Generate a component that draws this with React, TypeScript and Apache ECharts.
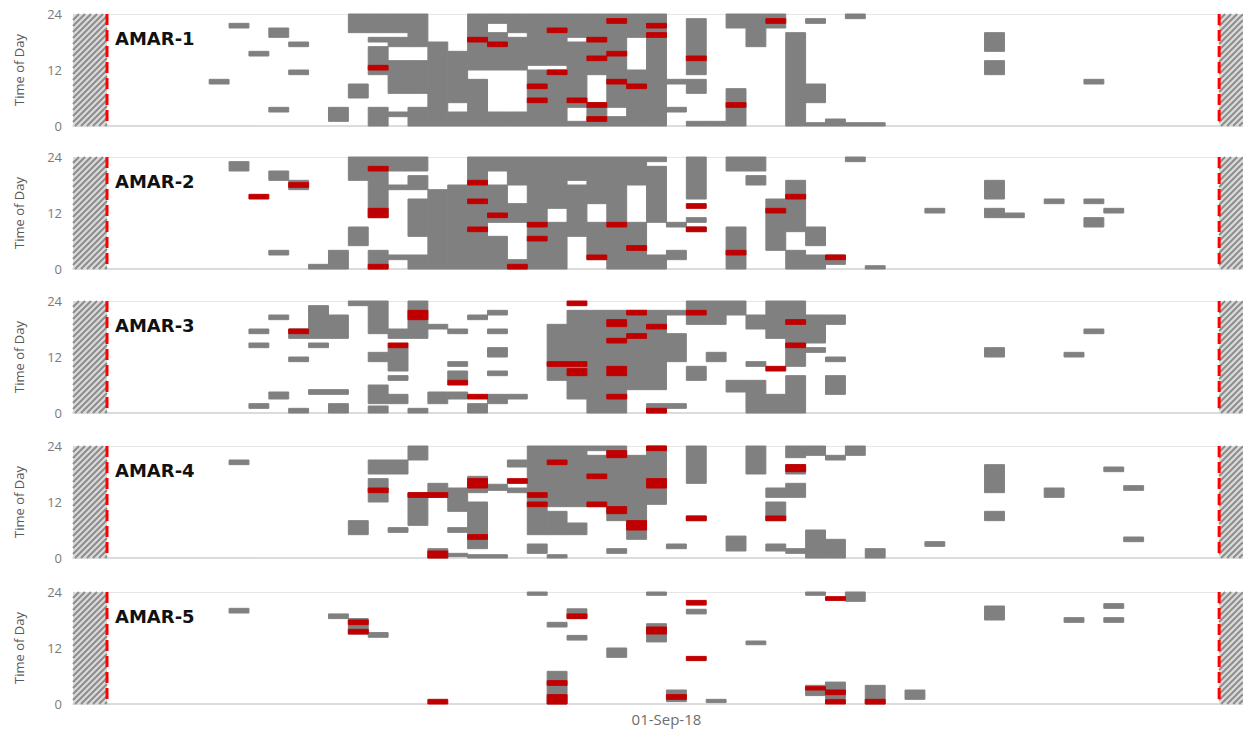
import React, { useEffect, useRef } from "react";
import * as echarts from "echarts";

// ---- data (day index: 0 = 04-Aug-18, 28 = 01-Sep-18; hours 0-24) ----
const PANELS = ["AMAR-1", "AMAR-2", "AMAR-3", "AMAR-4", "AMAR-5"];
const X_MIN = -1.85;
const X_MAX = 57;
const DEPLOY_START = -0.14;
const DEPLOY_END = 55.8;
const SEP1_DAY = 28;
const X_TICK_LABEL = "01-Sep-18";
const Y_TICKS = [0, 12, 24];

// [day, startHour, endHour]
const gray1 = [
  [5, 9, 10], [6, 21, 22], [7, 15, 16], [8, 19, 21], [8, 3, 4], [9, 17, 18], [9, 11, 12],
  [11, 1, 4], [12, 20, 24], [12, 6, 9],
  [13, 20, 24], [13, 18, 19], [13, 11, 17], [13, 0, 4],
  [14, 20, 24], [14, 17, 19], [14, 7, 14], [14, 2, 3],
  [15, 17, 24], [15, 7, 14], [15, 0, 4],
  [16, 0, 18], [17, 0, 3], [17, 5, 16],
  [18, 0, 10], [18, 12, 24],
  [19, 12, 20], [19, 22, 24], [19, 0, 3],
  [20, 0, 3], [20, 12, 19], [20, 20, 24],
  [21, 0, 12], [21, 13, 24], [22, 0, 12], [22, 13, 24],
  [23, 0, 1], [23, 4, 18], [23, 19, 24],
  [24, 0, 5], [24, 11, 24], [25, 0, 2], [25, 4, 24],
  [26, 0, 12], [26, 19, 24], [27, 0, 24],
  [28, 9, 10], [28, 3, 4],
  [29, 7, 10], [29, 11, 23], [29, 0, 1], [30, 0, 1],
  [31, 21, 24], [31, 0, 8], [32, 17, 24], [33, 21, 24], [34, 0, 20],
  [35, 5, 9], [35, 22, 23], [35, 0, 0.7], [36, 0, 1.5], [37, 23, 24], [37, 0, 0.7], [38, 0, 0.7],
  [44, 16, 20], [44, 11, 14], [49, 9, 10],
];
const red1 = [
  [13, 12, 13], [18, 18, 19], [19, 17, 18], [22, 20, 21], [24, 18, 19], [25, 22, 23],
  [27, 21, 22], [27, 19, 20], [24, 14, 15], [25, 15, 16], [29, 14, 15], [22, 11, 12],
  [21, 8, 9], [25, 9, 10], [26, 8, 9], [21, 5, 6], [23, 5, 6], [24, 4, 5], [31, 4, 5],
  [24, 1, 2], [33, 22, 23],
];

const gray2 = [
  [6, 21, 23], [8, 19, 21], [8, 3, 4], [9, 17, 19], [10, 0, 1], [11, 0, 4],
  [12, 19, 24], [12, 5, 9], [13, 17, 24], [13, 11, 17], [13, 0, 4],
  [14, 21, 24], [14, 17, 18], [14, 2, 3],
  [15, 21, 24], [15, 17, 20], [15, 7, 15], [15, 0, 3],
  [16, 0, 17], [17, 0, 18], [18, 0, 24],
  [19, 0, 7], [19, 10, 18], [19, 21, 24],
  [20, 18, 24], [20, 10, 14], [20, 0, 2],
  [21, 0, 24], [22, 0, 10], [22, 13, 24],
  [23, 7, 18], [23, 19, 24], [24, 14, 24], [24, 2, 10],
  [25, 0, 24], [26, 0, 10], [26, 18, 24],
  [27, 0, 3], [27, 10, 22], [27, 23, 24],
  [28, 2, 4], [28, 9, 10], [29, 15, 24], [29, 10, 11], [29, 8, 9],
  [31, 21, 24], [31, 0, 9], [32, 21, 24], [32, 18, 20],
  [33, 4, 15], [34, 8, 19], [34, 0, 4], [35, 5, 9], [35, 0, 3], [36, 1, 3],
  [37, 23, 24], [38, 0, 0.7],
  [41, 12, 13], [44, 15, 19], [44, 11, 13], [45, 11, 12], [47, 14, 15],
  [49, 14, 15], [49, 9, 11], [50, 12, 13],
];
const red2 = [
  [7, 15, 16], [9, 17.5, 18.5], [13, 21, 22], [13, 11, 13], [13, 0, 1], [18, 18, 19],
  [18, 14, 15], [18, 8, 9], [19, 11, 12], [20, 0, 1], [21, 9, 10], [21, 6, 7], [24, 2, 3],
  [25, 9, 10], [26, 4, 5], [29, 13, 14], [29, 8, 9], [31, 3, 4], [33, 12, 13], [34, 15, 16],
  [36, 2, 3],
];

const gray3 = [
  [7, 17, 18], [7, 14, 15], [7, 1, 2], [8, 20, 21], [8, 3, 4.5], [9, 16, 18], [9, 11, 12], [9, 0, 1],
  [10, 16, 23], [10, 14, 15], [10, 4, 5], [11, 16, 21], [11, 4, 5], [11, 0, 2],
  [12, 23, 24], [13, 17, 24], [13, 11, 13], [13, 2, 6], [13, 0, 1.5],
  [14, 16, 18], [14, 9, 14], [14, 7, 8], [14, 2, 4], [15, 16, 24], [15, 0, 1],
  [16, 18, 19], [16, 2, 4.5], [17, 17, 18], [17, 10, 11], [17, 7, 9], [17, 3, 4.5],
  [18, 20, 21], [18, 0, 2], [19, 21, 22], [19, 17, 18], [19, 12, 14], [19, 8, 9], [19, 2, 4],
  [20, 3, 4], [22, 7, 19], [23, 3, 22], [24, 0, 22], [25, 0, 22], [26, 5, 22],
  [27, 5, 22], [27, 0, 2], [28, 21, 22], [28, 11, 17], [28, 1, 2],
  [29, 19, 24], [29, 7, 10], [30, 19, 24], [30, 11, 13], [31, 21, 24], [31, 4.5, 7],
  [32, 18, 21], [32, 10, 11], [32, 0, 7], [33, 16, 24], [33, 0, 4], [34, 10, 24], [34, 0, 8],
  [35, 15, 21], [35, 13, 14], [36, 19, 21], [36, 11, 12], [36, 4, 8],
  [44, 12, 14], [48, 12, 13], [49, 17, 18],
];
const red3 = [
  [9, 17, 18], [14, 14, 15], [15, 20, 22], [17, 6, 7], [18, 3, 4], [23, 23, 24], [22, 10, 11],
  [23, 10, 11], [23, 8, 9.5], [25, 18.5, 20], [25, 15, 16], [25, 8, 10], [25, 3, 4],
  [26, 21, 22], [26, 16, 17], [27, 18, 19], [27, 0, 1], [29, 21, 22], [33, 9, 10],
  [34, 19, 20], [34, 14, 15],
];

const gray4 = [
  [6, 20, 21], [12, 5, 8], [13, 18, 21], [13, 12, 17], [14, 18, 21], [14, 5.5, 6.5],
  [15, 21, 24], [15, 7, 14], [16, 13, 16], [16, 0, 2],
  [17, 10, 15], [17, 5.5, 6.5], [17, 0.3, 1], [18, 14, 17.5], [18, 2, 12], [18, 0, 0.7],
  [19, 14.5, 15.8], [19, 0, 0.7], [20, 19.5, 21], [20, 14, 15],
  [21, 14, 24], [21, 5, 13], [21, 1, 3], [22, 11, 24], [22, 5, 10], [22, 0, 0.7],
  [23, 11, 24], [23, 5, 7.5], [24, 11, 22], [24, 23, 24], [25, 8, 24], [25, 1, 2],
  [26, 4, 22], [27, 11.5, 24], [28, 2, 3], [29, 16, 24], [29, 8, 9], [31, 1.5, 4.7],
  [32, 18, 24], [33, 13, 15], [33, 8, 12], [33, 1.5, 3],
  [34, 21.5, 24], [34, 18, 20], [34, 13, 16], [34, 1, 2], [35, 22, 24], [35, 0, 6],
  [36, 21, 22], [36, 0, 4], [37, 22, 24], [38, 0, 2],
  [41, 2.5, 3.5], [44, 14, 20], [44, 8, 10], [47, 13, 15], [50, 18.5, 19.5],
  [51, 14.5, 15.5], [51, 3.5, 4.5],
];
const red4 = [
  [13, 14, 15], [15, 13, 14], [16, 13, 14], [16, 0, 1.5], [18, 15, 17], [18, 4, 5],
  [20, 16, 17], [21, 13, 14], [21, 11, 12], [22, 20, 21], [24, 17, 18], [24, 11, 12],
  [25, 21.5, 23], [25, 9.5, 11], [26, 6, 8], [27, 23, 24], [27, 15, 17], [29, 8, 9],
  [33, 8, 9], [34, 18.5, 20],
];

const gray5 = [
  [6, 19.5, 20.5], [11, 18.3, 19.3], [12, 15, 18.3], [13, 14.3, 15.3],
  [21, 23.3, 24], [22, 16.5, 17.5], [22, 0, 7], [23, 18.3, 20.4], [23, 13.7, 14.7], [25, 10, 12],
  [27, 23.3, 24], [27, 13.3, 17.2], [28, 0.5, 3], [29, 19.3, 20.3], [30, 0.3, 1], [32, 12.7, 13.5],
  [35, 23.3, 24], [35, 1.8, 4], [36, 1.2, 4.7], [37, 22, 24], [38, 0, 4], [40, 1, 3],
  [44, 18, 21], [48, 17.5, 18.5], [50, 20.5, 21.5], [50, 17.5, 18.5],
];
const red5 = [
  [12, 17, 18], [12, 15, 16], [16, 0, 1], [22, 4, 5], [22, 0, 2], [23, 18.3, 19.3],
  [27, 15, 16.5], [28, 1, 2], [29, 21.2, 22.2], [29, 9.3, 10.2], [35, 3, 3.7],
  [36, 22.2, 23], [36, 2, 3], [36, 0, 1], [38, 0, 1],
];

const GRAYS = [gray1, gray2, gray3, gray4, gray5];
const REDS = [red1, red2, red3, red4, red5];

// ---- layout / style ----
const GRID_TOPS = [14, 157, 301, 446, 592];
const GRID_H = 112;
const GRID_LEFT = 73;
const GRAY = "#808080";
const RED = "#c00000";

function cellRender(color: string) {
  return (params: any, api: any) => {
    const d = api.value(0);
    const p1 = api.coord([d, api.value(2)]);
    const p2 = api.coord([d + 1, api.value(1)]);
    return {
      type: "rect",
      shape: { x: p1[0], y: p1[1], width: p2[0] - p1[0], height: p2[1] - p1[1] },
      style: { fill: color, stroke: color, lineWidth: 1 },
    };
  };
}

function hatchRender(params: any, api: any) {
  const a = api.coord([api.value(0), 24]);
  const b = api.coord([api.value(1), 0]);
  const x0 = a[0], y0 = a[1], w = b[0] - a[0], h = b[1] - a[1];
  const children: any[] = [
    { type: "rect", shape: { x: x0, y: y0, width: w, height: h }, style: { fill: "#dadada" } },
  ];
  const p = 6;
  for (let c = x0 + y0; c <= x0 + w + y0 + h + p; c += p) {
    const xa = Math.max(x0, c - y0 - h);
    const xb = Math.min(x0 + w, c - y0);
    if (xb > xa) {
      children.push({
        type: "line",
        shape: { x1: xa, y1: c - xa, x2: xb, y2: c - xb },
        style: { stroke: "#8c8c8c", lineWidth: 2 },
      });
    }
  }
  return { type: "group", children };
}

function lineRender(params: any, api: any) {
  const a = api.coord([api.value(0), 24]);
  const b = api.coord([api.value(0), 0]);
  return {
    type: "line",
    shape: { x1: a[0], y1: a[1], x2: b[0], y2: b[1] },
    style: { stroke: "#ff0000", lineWidth: 3, lineDash: [11, 5] },
  };
}

export default function App() {
  const ref = useRef<HTMLDivElement>(null);
  useEffect(() => {
    if (!ref.current) return;
    const chart = echarts.init(ref.current, null, { renderer: "svg" });
    const grid: any[] = [];
    const xAxis: any[] = [];
    const yAxis: any[] = [];
    const series: any[] = [];
    const title: any[] = [];
    PANELS.forEach((name, i) => {
      grid.push({ left: GRID_LEFT, right: 0, top: GRID_TOPS[i], height: GRID_H });
      xAxis.push({
        type: "value",
        gridIndex: i,
        min: X_MIN,
        max: X_MAX,
        axisLine: { show: true, onZero: false, lineStyle: { color: "#d0d0d0", width: 1.5 } },
        axisTick: { show: false },
        splitLine: { show: false },
        axisLabel: {
          show: i === PANELS.length - 1,
          customValues: [SEP1_DAY],
          formatter: () => X_TICK_LABEL,
          color: "#6e6e6e",
          fontSize: 15,
          fontFamily: "Open Sans",
          margin: 7,
        },
      });
      yAxis.push({
        type: "value",
        gridIndex: i,
        min: Y_TICKS[0],
        max: Y_TICKS[Y_TICKS.length - 1],
        interval: 12,
        name: "Time of Day",
        nameLocation: "middle",
        nameGap: 48,
        nameTextStyle: { color: "#595959", fontSize: 13, fontFamily: "Open Sans" },
        axisLine: { show: false },
        axisTick: { show: false },
        axisLabel: { color: "#7a7a7a", fontSize: 13, fontFamily: "Open Sans", margin: 11 },
        splitLine: {
          show: true,
          lineStyle: { color: ["rgba(0,0,0,0)", "rgba(0,0,0,0)", "#e6e6e6"], width: 1 },
        },
      });
      series.push({
        type: "custom",
        xAxisIndex: i,
        yAxisIndex: i,
        renderItem: hatchRender,
        encode: { x: [0, 1] },
        data: [[X_MIN, DEPLOY_START], [DEPLOY_END, X_MAX]],
        silent: true,
        z: 1,
      });
      series.push({
        type: "custom",
        xAxisIndex: i,
        yAxisIndex: i,
        renderItem: cellRender(GRAY),
        encode: { x: 0, y: [1, 2] },
        data: GRAYS[i],
        silent: true,
        z: 2,
      });
      series.push({
        type: "custom",
        xAxisIndex: i,
        yAxisIndex: i,
        renderItem: cellRender(RED),
        encode: { x: 0, y: [1, 2] },
        data: REDS[i],
        silent: true,
        z: 3,
      });
      series.push({
        type: "custom",
        xAxisIndex: i,
        yAxisIndex: i,
        renderItem: lineRender,
        encode: { x: 0 },
        data: [[DEPLOY_START], [DEPLOY_END]],
        silent: true,
        z: 4,
      });
      title.push({
        text: name,
        left: 110,
        top: GRID_TOPS[i] + 10,
        textStyle: { fontSize: 18, fontWeight: "bold", color: "#111", fontFamily: "DejaVu Sans" },
      });
    });
    chart.setOption({
      animation: false,
      backgroundColor: "#ffffff",
      title,
      grid,
      xAxis,
      yAxis,
      series,
    });
    return () => chart.dispose();
  }, []);
  return (
    <div
      ref={ref}
      style={{ position: "fixed", left: 0, top: 0, width: 1243, height: 732 }}
    />
  );
}
